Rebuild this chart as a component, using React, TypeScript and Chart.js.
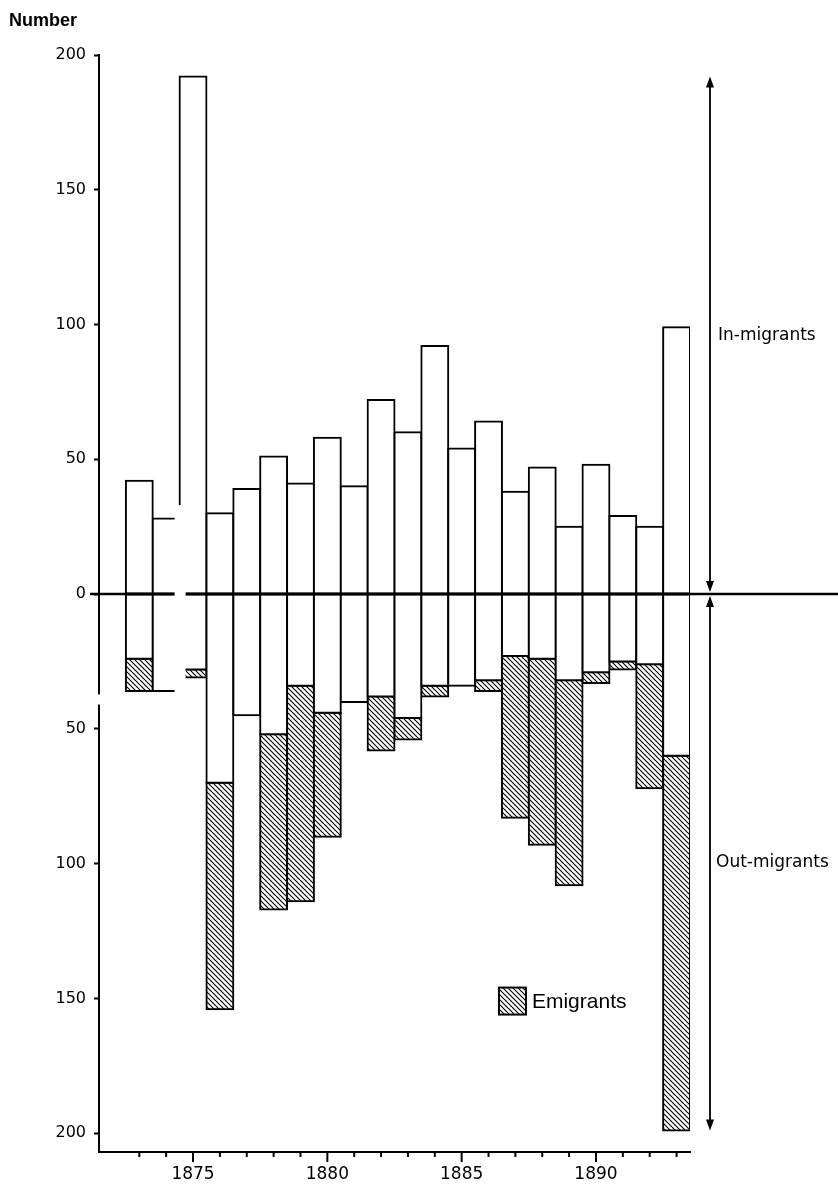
import React, { useEffect, useRef } from "react";
import { Chart, registerables } from "chart.js";

Chart.register(...registerables);

// ---- data ----
const years = [
  "1872", "1873", "1874", "1875", "1876", "1877", "1878", "1879", "1880", "1881", "1882",
  "1883", "1884", "1885", "1886", "1887", "1888", "1889", "1890", "1891", "1892", "1893",
];
const inMigrants = [null, 42, 28, 192, 30, 39, 51, 41, 58, 40, 72, 60, 92, 54, 64, 38, 47, 25, 48, 29, 25, 99];
const outMigrants = [null, 36, 36, 31, 154, 45, 117, 114, 90, 40, 58, 54, 38, 34, 36, 83, 93, 108, 33, 28, 72, 199];
const emigrants = [null, 12, 0, 3, 84, 0, 65, 80, 46, 0, 20, 8, 4, 0, 4, 60, 69, 76, 4, 3, 46, 139];
const yTickValues = [-200, -150, -100, -50, 0, 50, 100, 150, 200];
const xTickLabels = ["1875", "1880", "1885", "1890"];

const TICK_FONT = "'DejaVu Sans', sans-serif";

function makeHatch(): CanvasPattern | string {
  const s = 5;
  const c = document.createElement("canvas");
  c.width = s;
  c.height = s;
  const g = c.getContext("2d");
  if (!g) return "#888";
  g.fillStyle = "#fff";
  g.fillRect(0, 0, s, s);
  g.strokeStyle = "#000";
  g.lineWidth = 1.1;
  g.beginPath();
  g.moveTo(0, 0);
  g.lineTo(s, s);
  g.moveTo(-1, s - 1);
  g.lineTo(1, s + 1);
  g.moveTo(s - 1, -1);
  g.lineTo(s + 1, 1);
  g.stroke();
  return g.createPattern(c, "repeat") || "#888";
}

function arrowHead(ctx: CanvasRenderingContext2D, x: number, tipY: number, dir: number) {
  // dir = -1 points up, +1 points down
  ctx.beginPath();
  ctx.moveTo(x, tipY);
  ctx.lineTo(x - 4, tipY - dir * 11);
  ctx.lineTo(x + 4, tipY - dir * 11);
  ctx.closePath();
  ctx.fill();
}

const decor = {
  id: "decor",
  afterDatasetsDraw(chart: any) {
    const { ctx, chartArea } = chart;
    const y = chart.scales.y;
    const y0 = y.getPixelForValue(0);
    ctx.save();
    ctx.strokeStyle = "#000";
    ctx.lineWidth = 2.6;
    ctx.beginPath();
    ctx.moveTo(chartArea.left - 9, y0);
    ctx.lineTo(chart.width, y0);
    ctx.stroke();
    ctx.restore();
  },
  afterDraw(chart: any) {
    const { ctx, chartArea } = chart;
    const x = chart.scales.x;
    const y = chart.scales.y;
    ctx.save();

    // break in the original paste-up between 1874 and 1875
    const cut = x.getPixelForValue(2.5);
    ctx.fillStyle = "#fff";
    ctx.fillRect(cut - 5, y.getPixelForValue(33), 11, y.getPixelForValue(-41) - y.getPixelForValue(33));
    ctx.fillRect(
      chartArea.left - 12,
      y.getPixelForValue(-37.2),
      cut - 5 - (chartArea.left - 12),
      y.getPixelForValue(-41) - y.getPixelForValue(-37.2)
    );

    // x-axis tick marks (yearly, longer every 5 years)
    ctx.strokeStyle = "#000";
    ctx.lineWidth = 2;
    for (let i = 0; i < years.length; i++) {
      if (inMigrants[i] == null) continue;
      const px = x.getPixelForValue(i);
      const len = Number(years[i]) % 5 === 0 ? 10 : 5;
      ctx.beginPath();
      ctx.moveTo(px, chartArea.bottom);
      ctx.lineTo(px, chartArea.bottom + len);
      ctx.stroke();
    }

    // range arrows on the right
    const ax = chartArea.right + 20;
    const maxIn = Math.max(...(inMigrants.filter((v) => v != null) as number[]));
    const maxOut = Math.max(...(outMigrants.filter((v) => v != null) as number[]));
    const y0 = y.getPixelForValue(0);
    const yTop = y.getPixelForValue(maxIn);
    const yBot = y.getPixelForValue(-maxOut);
    ctx.lineWidth = 1.8;
    ctx.fillStyle = "#000";
    ctx.beginPath();
    ctx.moveTo(ax, yTop + 4);
    ctx.lineTo(ax, y0 - 6);
    ctx.moveTo(ax, y0 + 6);
    ctx.lineTo(ax, yBot - 4);
    ctx.stroke();
    arrowHead(ctx, ax, yTop, -1);
    arrowHead(ctx, ax, y0 - 2, 1);
    arrowHead(ctx, ax, y0 + 2, -1);
    arrowHead(ctx, ax, yBot, 1);

    ctx.font = `17px ${TICK_FONT}`;
    ctx.textAlign = "left";
    ctx.textBaseline = "middle";
    ctx.fillText("In-migrants", ax + 8, y.getPixelForValue(maxIn / 2));
    ctx.fillText("Out-migrants", ax + 6, y.getPixelForValue(-maxOut / 2));

    // legend
    const bx = x.getPixelForValue(14.5) - 3;
    const by = y.getPixelForValue(-151);
    const bs = 27;
    ctx.fillStyle = makeHatch();
    ctx.fillRect(bx, by - bs / 2, bs, bs);
    ctx.strokeStyle = "#000";
    ctx.lineWidth = 2;
    ctx.strokeRect(bx, by - bs / 2, bs, bs);
    ctx.fillStyle = "#000";
    ctx.font = "21px 'Liberation Sans', Arial, sans-serif";
    ctx.fillText("Emigrants", bx + bs + 6, by + 1);

    // axis title
    ctx.font = "bold 18px 'Liberation Sans', Arial, sans-serif";
    ctx.fillText("Number", chartArea.left - 90, chartArea.top - 34);

    ctx.restore();
  },
};

export default function App() {
  const ref = useRef<HTMLCanvasElement | null>(null);

  useEffect(() => {
    if (!ref.current) return;
    const hatch = makeHatch();
    const common = {
      borderColor: "#000",
      borderWidth: 2,
      inflateAmount: 1,
      borderSkipped: false,
      barPercentage: 1,
      categoryPercentage: 1,
      stack: "s",
    };
    const chart = new Chart(ref.current, {
      type: "bar",
      data: {
        labels: years,
        datasets: [
          { ...common, label: "In-migrants", data: inMigrants, backgroundColor: "#fff" },
          {
            ...common,
            label: "Out-migrants",
            data: outMigrants.map((v, i) => (v == null ? null : -(v - (emigrants[i] || 0)))),
            backgroundColor: "#fff",
          },
          {
            ...common,
            label: "Emigrants",
            data: emigrants.map((v) => (v ? -v : null)),
            backgroundColor: hatch as any,
          },
        ],
      } as any,
      options: {
        responsive: false,
        animation: false,
        devicePixelRatio: 1,
        layout: { padding: { left: 0, right: 148, top: 55, bottom: 0 } },
        plugins: { legend: { display: false }, tooltip: { enabled: false }, title: { display: false } },
        scales: {
          x: {
            type: "category",
            stacked: true,
            offset: true,
            grid: { display: true, drawOnChartArea: false, drawTicks: false },
            border: { display: true, color: "#000", width: 2 },
            ticks: {
              autoSkip: false,
              maxRotation: 0,
              padding: 12,
              color: "#000",
              font: { family: TICK_FONT, size: 17 },
              callback: (_v: any, i: number) => (xTickLabels.includes(years[i]) ? years[i] : ""),
            },
            afterFit: (s: any) => {
              s.height = 51;
            },
          },
          y: {
            stacked: true,
            min: -207,
            max: 200,
            afterBuildTicks: (s: any) => {
              s.ticks = yTickValues.map((v) => ({ value: v }));
            },
            grid: { drawOnChartArea: false, drawTicks: true, tickLength: 5, tickColor: "#000", tickWidth: 2 },
            border: { display: true, color: "#000", width: 2 },
            ticks: {
              padding: 8,
              color: "#000",
              font: { family: TICK_FONT, size: 16 },
              callback: (v: any) => String(Math.abs(Number(v))),
            },
            afterFit: (s: any) => {
              s.width = 99;
            },
          },
        },
      } as any,
      plugins: [decor],
    });
    return () => chart.destroy();
  }, []);

  return (
    <div style={{ position: "absolute", left: 0, top: 0, width: 838, height: 1203, background: "#fff" }}>
      <canvas ref={ref} width={838} height={1203} style={{ display: "block", width: 838, height: 1203 }} />
    </div>
  );
}
